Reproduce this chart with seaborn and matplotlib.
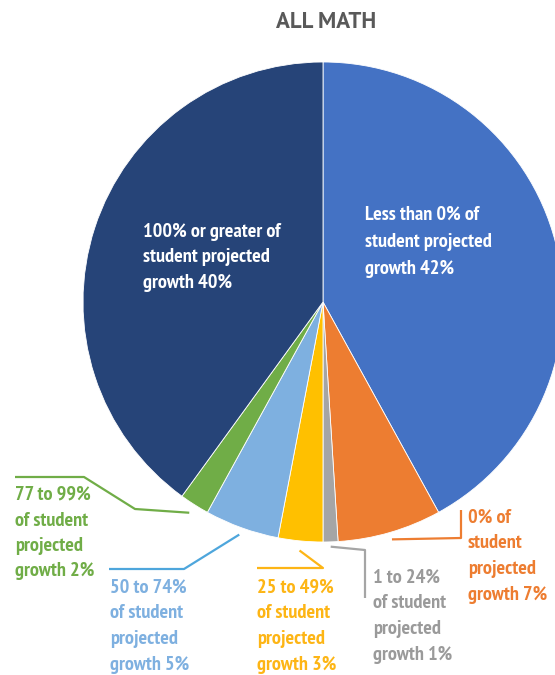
import numpy as np
import matplotlib
matplotlib.use("Agg")
import matplotlib.pyplot as plt
import seaborn as sns

sns.set_theme(style="white")
plt.rcParams["font.family"] = ["PT Sans Narrow", "DejaVu Sans"]

# Shares of students by projected-growth band (clockwise from 12 o'clock)
categories = [
    "Less than 0% of\nstudent projected\ngrowth",
    "0% of\nstudent\nprojected\ngrowth",
    "1 to 24%\nof student\nprojected\ngrowth",
    "25 to 49%\nof student\nprojected\ngrowth",
    "50 to 74%\nof student\nprojected\ngrowth",
    "77 to 99%\nof student\nprojected\ngrowth",
    "100% or greater of\nstudent projected\ngrowth",
]
shares = [42, 7, 1, 3, 5, 2, 40]
colors = ["#4472C4", "#ED7D31", "#A5A5A5", "#FFC000", "#7EB0E0", "#70AD47", "#264478"]
text_colors = ["white", "#ED7D31", "#9A9A9A", "#FDB515", "#7EB0E0", "#70AD47", "white"]
line_colors = [None, "#ED7D31", "#A5A5A5", "#FDB515", "#4EA6DC", "#70AD47", None]

W, H = 555, 675
fig = plt.figure(figsize=(W / 100, H / 100), dpi=100)
ax = fig.add_axes([0, 0, 1, 1])

def Y(p):
    return H - p

cx, cy, R = 323, Y(302), 240
wedges, _ = ax.pie(shares, colors=colors, startangle=90, counterclock=False,
                   center=(cx, cy), radius=R,
                   wedgeprops=dict(edgecolor="white", linewidth=0.6))
ax.set_xlim(0, W)
ax.set_ylim(0, H)
ax.set_aspect("equal")
ax.axis("off")

fs = 14.6
lh = 25.5

def block(x, y0, text, color, step=lh):
    for i, line in enumerate(text.split("\n")):
        ax.text(x, Y(y0 + i * step), line, color=color, fontsize=fs,
                fontweight="bold", ha="left", va="center")

def label_text(i):
    return f"{categories[i]} {shares[i]}%"

# In-slice labels
block(365, 215, label_text(0), text_colors[0], 27)
block(143, 232, label_text(6), text_colors[6], 25.5)

# Outside labels with leader lines: (text position, fixed leader vertices)
outside = {
    1: ((468, 518), [(461, 538), (461, 510)], 1.03),
    2: ((373, 578), [(365, 550), (365, 598)], 1.02),
    3: ((257, 588), [(323, 568), (257, 568)], 1.04),
    4: ((110, 588), [(184, 569), (109, 569)], 1.03),
    5: ((15, 495), [(135, 509), (84, 477), (15, 477)], 1.04),
}
for i, ((tx, ty), pts, rr) in outside.items():
    w = wedges[i]
    mid = np.deg2rad((w.theta1 + w.theta2) / 2)
    start = (cx + rr * R * np.cos(mid), cy + rr * R * np.sin(mid))
    xs = [start[0]] + [p[0] for p in pts]
    ys = [start[1]] + [Y(p[1]) for p in pts]
    ax.plot(xs, ys, color=line_colors[i], lw=1.6, solid_capstyle="butt")
    block(tx, ty, label_text(i), text_colors[i])

ax.text(326, Y(22), "ALL MATH", color="#595959", fontsize=16.5,
        fontweight="bold", ha="center", va="center",
        family=["PT Sans", "DejaVu Sans"])

fig.savefig("out.png", dpi=100)
